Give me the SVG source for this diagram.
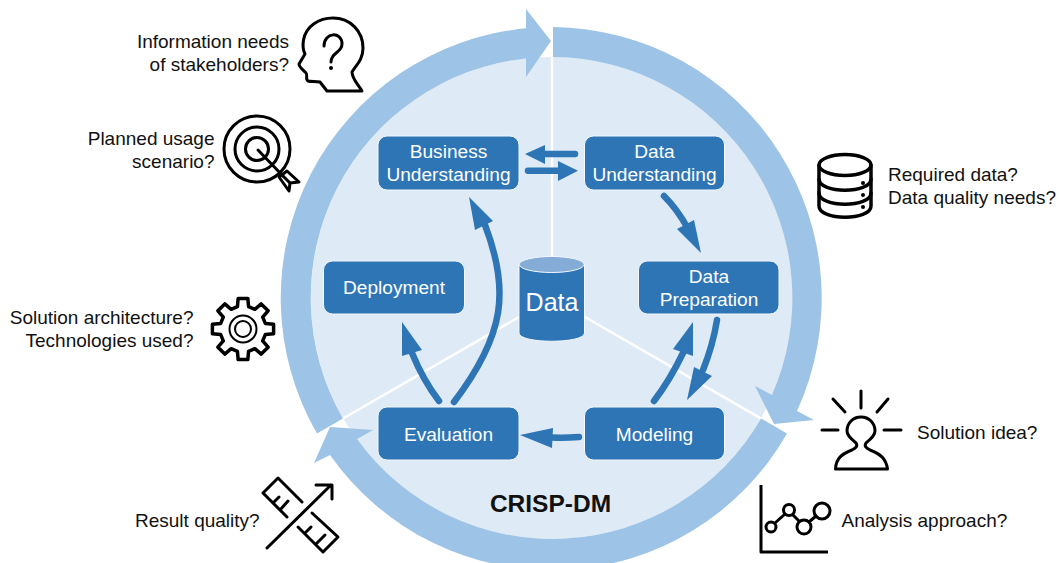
<svg xmlns="http://www.w3.org/2000/svg" width="1059" height="563" viewBox="0 0 1059 563">
<style>
text{font-family:"Liberation Sans",Arial,sans-serif}
.box{fill:#2E75B6;stroke:#F2F7FC;stroke-width:1}
.bt{fill:#fff;font-size:19.100px;text-anchor:middle}
.lb{fill:#111;font-size:19px}
.e{text-anchor:end}
.ring{fill:#9DC3E6}
.div{stroke:#fff;stroke-width:2.500;fill:none}
.cl{fill:none;stroke:#2E75B6;stroke-width:6.500;stroke-linecap:round}
.ch{fill:#2E75B6}
.ic{fill:none;stroke:#000;stroke-width:3;stroke-linejoin:round;stroke-linecap:round}
</style>
<rect width="1059" height="563" fill="#fff"/>
<g id="cycle">
<circle cx="552" cy="298" r="241" fill="#DEEAF6"/>
<path class="div" d="M552 298V27M552 298L787 433.500M552 298L317 433.500"/>
<path class="ring" d="M553 27A271 271 0 0 1 797 411L814 420L774 424L755 386L772 395A241 241 0 0 0 553 57Z"/>
<path class="ring" d="M787 433.500A271 271 0 0 1 330 455L314 463L330 427L373 430L357 439A241 241 0 0 0 761 418.500Z"/>
<path class="ring" d="M317 433.500A271 271 0 0 1 526 28.300L526 9L551 41L526 77L526 58.400A241 241 0 0 0 343 418.500Z"/>
</g>
<g id="connectors">
<path class="cl" d="M575 154H545"/><polygon class="ch" points="525,154 545,145 545,164"/>
<path class="cl" d="M528 170.700H559"/><polygon class="ch" points="578,170.700 558,161 558,181"/>
<path class="cl" d="M664 196Q677 209 687 227"/><polygon class="ch" points="701,253 694,220 677,229"/>
<path class="cl" d="M717 320Q713 345 703 370"/><polygon class="ch" points="687,400 712,376 694,367"/>
<path class="cl" d="M654 401Q670 380 683 353"/><polygon class="ch" points="693,322 693,356 673,349"/>
<path class="cl" d="M579 437Q565 438 552 437.500"/><polygon class="ch" points="520,435 553,428 552,448"/>
<path class="cl" d="M439 401Q423 380 412 353"/><polygon class="ch" points="402,322 422,350 402,356"/>
<path class="cl" d="M454 402C505 335 510 290 485 225"/><polygon class="ch" points="469,197 493,221 475,230"/>
</g>
<g id="business-understanding"><rect class="box" x="378" y="136" width="141" height="54" rx="9"/><text class="bt" x="448.500" y="158">Business</text><text class="bt" x="448.500" y="181">Understanding</text></g>
<g id="data-understanding"><rect class="box" x="584.500" y="136" width="140" height="54" rx="9"/><text class="bt" x="654.500" y="158">Data</text><text class="bt" x="654.500" y="181">Understanding</text></g>
<g id="data-preparation"><rect class="box" x="638.500" y="261" width="140.500" height="53" rx="9"/><text class="bt" x="709" y="283">Data</text><text class="bt" x="709" y="306">Preparation</text></g>
<g id="deployment"><rect class="box" x="323.500" y="261" width="141" height="53" rx="9"/><text class="bt" x="394" y="294">Deployment</text></g>
<g id="evaluation"><rect class="box" x="378" y="407" width="141" height="53" rx="9"/><text class="bt" x="448.500" y="441">Evaluation</text></g>
<g id="modeling"><rect class="box" x="584.500" y="407" width="140" height="53" rx="9"/><text class="bt" x="654.500" y="441">Modeling</text></g>
<g id="data-store">
<path d="M519 264V333C519 344 584.500 344 584.500 333V264Z" fill="#2E75B6" stroke="#F2F7FC" stroke-width="1"/>
<ellipse cx="551.700" cy="264.500" rx="32.500" ry="8" fill="#84ACD6" stroke="#F2F7FC" stroke-width="1"/>
<text x="552" y="311" fill="#fff" font-size="25px" text-anchor="middle">Data</text>
</g>
<text x="550.500" y="512" font-size="24.500px" font-weight="bold" fill="#111" text-anchor="middle">CRISP-DM</text>
<g id="stakeholders">
<text class="lb e" x="289" y="48">Information needs</text><text class="lb e" x="289" y="71">of stakeholders?</text>
<path class="ic" d="M362 91H327L320 82C316 81 311 82 308 81C305 79 308 75 306 73C303 70 299 67 299 64L305 54C302 48 303 44 303.500 40C306 26 319 18 333 18C350 18 363 31 363 48C363 60 356 65 352 72C352 79 358 84 362 91Z"/>
<path class="ic" d="M324 46C324 32 342 31 342 44C342 53 331 52 331 62"/>
<circle cx="331" cy="68" r="2" fill="#000"/>
</g>
<g id="usage">
<text class="lb e" x="214.500" y="145">Planned usage</text><text class="lb e" x="214.500" y="168">scenario?</text>
<circle class="ic" cx="257" cy="149" r="33"/><circle class="ic" cx="257" cy="149" r="22"/><circle class="ic" cx="257" cy="149" r="11.500"/>
<path class="ic" d="M258 150L283 176"/>
<path class="ic" d="M287 171L299 182L290 183L289 191L279 177Z"/>
<path class="ic" d="M283 176L290 183"/>
</g>
<g id="architecture">
<text class="lb e" x="193.500" y="324">Solution architecture?</text><text class="lb e" x="193.500" y="347">Technologies used?</text>
<path class="ic" transform="translate(243 329)" style="stroke-width:3.500" d="M-4.850-30.600L4.850-30.600L5.560-22.300L11.850-19.700L18.200-25.100L25.100-18.200L19.700-11.850L22.300-5.560L30.600-4.850L30.600 4.850L22.300 5.560L19.700 11.850L25.100 18.200L18.200 25.100L11.850 19.700L5.560 22.300L4.850 30.600L-4.850 30.600L-5.560 22.300L-11.850 19.700L-18.200 25.100L-25.100 18.200L-19.700 11.850L-22.300 5.560L-30.600 4.850L-30.600-4.850L-22.300-5.560L-19.700-11.850L-25.100-18.200L-18.200-25.100L-11.850-19.700L-5.560-22.300Z"/>
<circle cx="243" cy="329" r="13.500" fill="none" stroke="#000" stroke-width="2"/><circle cx="243" cy="329" r="8" fill="none" stroke="#000" stroke-width="2"/>
</g>
<g id="data-needs">
<text class="lb" x="888" y="181">Required data?</text><text class="lb" x="888" y="204">Data quality needs?</text>
<g class="ic" style="stroke-width:3.500"><ellipse cx="845" cy="165" rx="26" ry="10.500"/><path d="M819 165V206C819 221 871 221 871 206V165"/><path d="M819 179C819 194 871 194 871 179"/><path d="M819 193C819 208 871 208 871 193"/></g>
<circle cx="863" cy="183" r="2"/><circle cx="863" cy="195" r="2"/><circle cx="863" cy="207" r="2"/>
</g>
<g id="solution-idea">
<text class="lb" x="917" y="439">Solution idea?</text>
<path class="ic" d="M861 391V408M833 399L845 412M888 399L877 412M822 430H838M884 430H901"/>
<path class="ic" d="M835.500 469H887.500C886 458 880 454 870 450C866 448 864 446 866 443C872 438 875 435 875 431C875 423 869 417 861 417C853 417 847 423 847 431C847 435 850 438 856 443C858 446 856 448 852 450C842 454 836 458 835.500 469Z"/>
</g>
<g id="analysis">
<text class="lb" x="841.500" y="527">Analysis approach?</text>
<path class="ic" style="stroke-linecap:butt" d="M761 485V552H828"/>
<path class="ic" d="M775 523L785 514M793 515L799 521M809 522L816 516"/>
<circle class="ic" cx="771" cy="527" r="5"/><circle class="ic" cx="789" cy="510" r="5.500"/><circle class="ic" cx="804" cy="527" r="7"/><circle class="ic" cx="822" cy="511" r="8"/>
</g>
<g id="result-quality">
<text class="lb" x="135" y="527">Result quality?</text>
<path class="ic" d="M267 548L331 485M316 485H332V499"/>
<path class="ic" d="M302 502L278 478L263 493L287 517M273 503L279 497M280 510L288 501"/>
<path class="ic" d="M312 513L338 537L323 552L298 527M305 533L311 527M316 544L325 535"/>
</g>
</svg>
